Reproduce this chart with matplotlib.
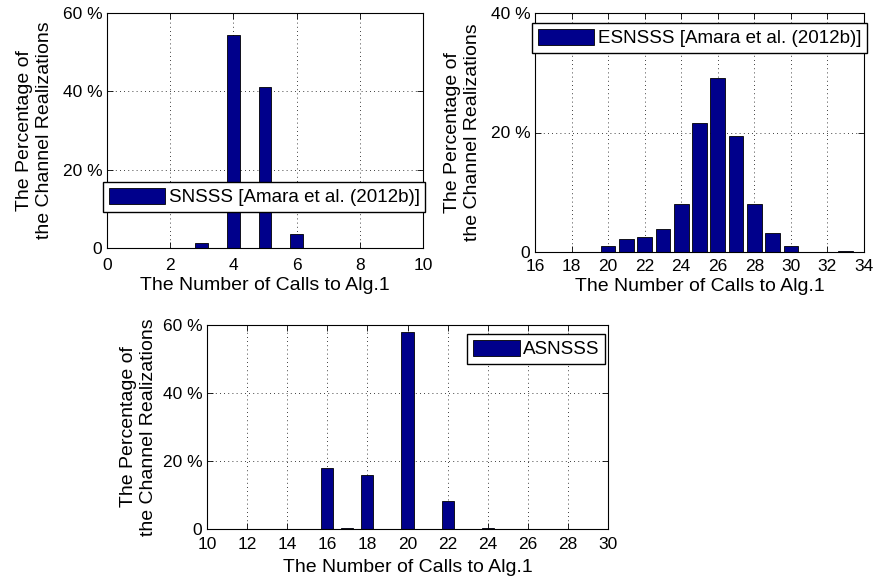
import numpy as np
import matplotlib
matplotlib.use("Agg")
import matplotlib.pyplot as plt

plt.rcParams['font.family'] = ['Liberation Sans', 'DejaVu Sans']
plt.rcParams['font.size'] = 14

# SNSSS
calls_1 = [3, 4, 5, 6]
pct_1 = [1.4, 54.3, 41.2, 3.6]

# ESNSSS
calls_2 = [19, 20, 21, 22, 23, 24, 25, 26, 27, 28, 29, 30, 31, 33]
pct_2 = [0.05, 0.95, 2.1, 2.5, 3.8, 8.0, 21.6, 29.2, 19.4, 8.1, 3.1, 0.95, 0.05, 0.25]

# ASNSSS
calls_3 = [16, 17, 18, 20, 22, 24]
pct_3 = [17.9, 0.2, 15.8, 57.9, 8.2, 0.2]

labels = ['SNSSS [Amara et al. (2012b)]', 'ESNSSS [Amara et al. (2012b)]', 'ASNSSS']

W, H = 877, 581
bar_color = '#00008B'


def px_axes(fig, left, top, right, bottom):
    return fig.add_axes([left / W, 1 - bottom / H, (right - left) / W, (bottom - top) / H])


def style(ax, xlim, xticks, ylim, yticks, xpad=6, xlpad=3, ylpad=7):
    ax.set_xlim(*xlim)
    ax.set_ylim(*ylim)
    ax.set_xticks(xticks)
    ax.set_yticks(yticks)
    ax.set_yticklabels(['0'] + [f'{t} %' for t in yticks[1:]])
    ax.grid(True, linestyle=(0, (1, 4)), color='black', linewidth=0.6)
    ax.set_axisbelow(True)
    ax.tick_params(direction='in', top=True, right=True, length=4, width=0.6, labelsize=12.5)
    ax.tick_params(axis='x', pad=xpad)
    ax.tick_params(axis='y', pad=3.5)
    for s in ax.spines.values():
        s.set_linewidth(0.8)
    ax.set_xlabel('The Number of Calls to Alg.1', fontsize=14, labelpad=xlpad)
    ax.set_ylabel('The Percentage of\nthe Channel Realizations', fontsize=14, labelpad=ylpad)


def add_legend(fig, ax, x, y, hl):
    leg = ax.legend(loc='upper left', bbox_to_anchor=(x / W, 1 - y / H), bbox_transform=fig.transFigure,
                    borderaxespad=0, fancybox=False, framealpha=1, edgecolor='black', fontsize=13.5,
                    handlelength=hl, handleheight=1.0, borderpad=0.3, handletextpad=0.2)
    leg.get_frame().set_linewidth(1.0)


fig = plt.figure(figsize=(W / 100, H / 100), dpi=100)

ax1 = px_axes(fig, 107, 13, 423, 248)
ax1.bar(calls_1, pct_1, width=0.4, color=bar_color, edgecolor='black', linewidth=0.6, label=labels[0])
style(ax1, (0, 10), np.arange(0, 11, 2), (0, 60), [0, 20, 40, 60], xpad=7, xlpad=3)
add_legend(fig, ax1, 103, 182, 3.0)

ax2 = px_axes(fig, 535, 13, 864, 252)
ax2.bar(calls_2, pct_2, width=0.8, color=bar_color, edgecolor='black', linewidth=0.6, label=labels[1])
style(ax2, (16, 34), np.arange(16, 35, 2), (0, 40), [0, 20, 40], xpad=5, xlpad=3)
add_legend(fig, ax2, 532, 23, 3.0)

ax3 = px_axes(fig, 207, 325, 608, 529)
ax3.bar(calls_3, pct_3, width=0.6, color=bar_color, edgecolor='black', linewidth=0.6, label=labels[2])
style(ax3, (10, 30), np.arange(10, 31, 2), (0, 60), [0, 20, 40, 60], xpad=6, xlpad=5, ylpad=4)
add_legend(fig, ax3, 467, 334, 2.5)

fig.savefig('out.png', dpi=100)
